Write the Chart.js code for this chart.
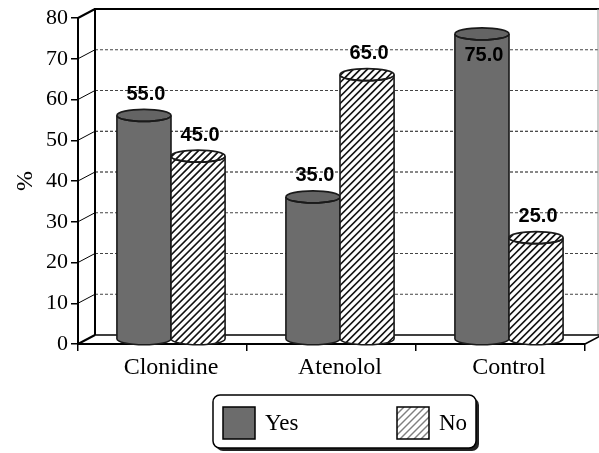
<!DOCTYPE html>
<html>
<head>
<meta charset="utf-8">
<script src="https://cdn.jsdelivr.net/npm/chart.js@4.4.1/dist/chart.umd.min.js"></script>
<style>
  html, body { margin: 0; padding: 0; background: #fff; }
</style>
</head>
<body>
<canvas id="chart" width="599" height="453"></canvas>
<script>
const categories = ["Clonidine", "Atenolol", "Control"];
const seriesNames = ["Yes", "No"];
const yesValues = [55, 35, 75];
const noValues = [45, 65, 25];
const yMax = 80;
const yStep = 10;

const DX = 17, DY = 9;          // depth of the 3d box
const serif = "'Liberation Serif', 'Times New Roman', serif";
const sans = "'Liberation Sans', Arial, sans-serif";
const YES_FILL = "#6c6c6c";
const YES_TOP = "#646464";
const EDGE = "#1a1a1a";

// diagonal hatch inside the current clip
function hatch(ctx, x0, y0, x1, y1, color, gap, width) {
  ctx.save();
  ctx.strokeStyle = color;
  ctx.lineWidth = width;
  const h = y1 - y0;
  for (let k = x0 - h; k < x1 + gap; k += gap) {
    ctx.beginPath();
    ctx.moveTo(k, y1);
    ctx.lineTo(k + h, y0);
    ctx.stroke();
  }
  ctx.restore();
}

function cylinder(ctx, cx, top, bottom, rx, ry, striped) {
  const body = new Path2D();
  body.moveTo(cx - rx, top);
  body.lineTo(cx - rx, bottom);
  body.ellipse(cx, bottom, rx, ry, 0, Math.PI, 0, true);
  body.lineTo(cx + rx, top);
  body.ellipse(cx, top, rx, ry, 0, 0, Math.PI, false);
  body.closePath();
  const cap = new Path2D();
  cap.ellipse(cx, top, rx, ry, 0, 0, Math.PI * 2);

  ctx.save();
  ctx.fillStyle = striped ? "#fff" : YES_FILL;
  ctx.fill(body);
  if (striped) {
    ctx.save(); ctx.clip(body);
    hatch(ctx, cx - rx, top - ry, cx + rx, bottom + ry, "#111", 7, 1.7);
    ctx.restore();
  }
  ctx.fillStyle = striped ? "#fff" : YES_TOP;
  ctx.fill(cap);
  if (striped) {
    ctx.save(); ctx.clip(cap);
    hatch(ctx, cx - rx, top - ry, cx + rx, top + ry, "#111", 7, 1.7);
    ctx.restore();
  }
  ctx.strokeStyle = EDGE;
  ctx.lineWidth = 1.6;
  ctx.stroke(body);
  ctx.stroke(cap);
  ctx.restore();
}

const frame = {
  id: "frame",
  beforeDatasetsDraw(chart) {
    const { ctx, chartArea: a, scales: { y } } = chart;
    ctx.save();
    for (let v = 0; v <= yMax; v += yStep) {
      const yf = y.getPixelForValue(v);
      ctx.setLineDash([]);
      ctx.strokeStyle = "#000";
      ctx.lineWidth = (v === 0 || v === yMax) ? 2 : 1;
      ctx.beginPath(); ctx.moveTo(a.left, yf); ctx.lineTo(a.left + DX, yf - DY); ctx.stroke();
      if (v > 0 && v < yMax) {
        ctx.setLineDash([3, 2]);
        ctx.strokeStyle = (v === 40 || v === 50) ? "#111" : "#444";
        ctx.lineWidth = 1;
        ctx.beginPath(); ctx.moveTo(a.left + DX, yf - DY); ctx.lineTo(a.right + DX, yf - DY); ctx.stroke();
      }
    }
    ctx.setLineDash([]);
    ctx.strokeStyle = "#000";
    const yt = y.getPixelForValue(yMax) - DY, yb = y.getPixelForValue(0) - DY;
    // back wall
    ctx.lineWidth = 2;
    ctx.beginPath();
    ctx.moveTo(a.left + DX, yb); ctx.lineTo(a.left + DX, yt); ctx.lineTo(a.right + DX, yt);
    ctx.stroke();
    ctx.lineWidth = 1;
    ctx.strokeStyle = "#999";
    ctx.beginPath(); ctx.moveTo(a.right + DX - 4, yt); ctx.lineTo(a.right + DX - 4, yb); ctx.stroke();
    // floor
    ctx.strokeStyle = "#000";
    ctx.lineWidth = 1.5;
    ctx.beginPath();
    ctx.moveTo(a.left + DX, yb); ctx.lineTo(a.right + DX, yb);
    ctx.moveTo(a.right, a.bottom); ctx.lineTo(a.right + DX, yb);
    ctx.stroke();
    ctx.restore();
  }
};

const cylinders = {
  id: "cylinders",
  afterDatasetsDraw(chart) {
    const { ctx, chartArea: a } = chart;
    ctx.save();
    chart.data.datasets.forEach((ds, i) => {
      chart.getDatasetMeta(i).data.forEach((el, j) => {
        const cx = el.x + DX / 2;
        const top = el.y - DY / 2;
        const bottom = el.base - DY / 2;
        cylinder(ctx, cx, top, bottom, el.width / 2, 6, i === 1);
      });
    });
    // value labels
    ctx.font = "bold 20px " + sans;
    ctx.fillStyle = "#000";
    ctx.textAlign = "center";
    ctx.textBaseline = "middle";
    chart.data.datasets.forEach((ds, i) => {
      chart.getDatasetMeta(i).data.forEach((el, j) => {
        const cx = el.x + DX / 2 + 2;
        const top = el.y - DY / 2;
        const inside = top - 21 - 10 < a.top;
        ctx.fillText(ds.data[j].toFixed(1), cx, inside ? top + 22 : top - 21);
      });
    });
    ctx.restore();
  }
};

const boxLegend = {
  id: "boxLegend",
  afterDraw(chart) {
    const ctx = chart.ctx;
    const bx = 213, by = 395, bw = 263, bh = 53;
    ctx.save();
    ctx.fillStyle = "#222";
    ctx.beginPath(); ctx.roundRect(bx + 3, by + 3, bw, bh, 7); ctx.fill();
    ctx.fillStyle = "#fff";
    ctx.strokeStyle = "#000";
    ctx.lineWidth = 1.5;
    ctx.beginPath(); ctx.roundRect(bx, by, bw, bh, 7); ctx.fill(); ctx.stroke();
    const slots = [223, 397];
    ctx.font = "23px " + serif;
    ctx.textBaseline = "middle";
    chart.data.datasets.forEach((ds, i) => {
      const sx = slots[i], sy = 407, s = 32;
      ctx.fillStyle = i === 0 ? YES_FILL : "#fff";
      ctx.fillRect(sx, sy, s, s);
      if (i === 1) {
        ctx.save();
        ctx.beginPath(); ctx.rect(sx, sy, s, s); ctx.clip();
        hatch(ctx, sx, sy, sx + s, sy + s, "#808080", 7, 1.4);
        ctx.restore();
      }
      ctx.strokeStyle = "#000";
      ctx.lineWidth = 1.5;
      ctx.strokeRect(sx, sy, s, s);
      ctx.fillStyle = "#000";
      ctx.fillText(ds.label, sx + s + 10, sy + s / 2 + 1);
    });
    ctx.restore();
  }
};

new Chart(document.getElementById("chart"), {
  type: "bar",
  data: {
    labels: categories,
    datasets: [
      { label: seriesNames[0], data: yesValues, backgroundColor: "rgba(0,0,0,0)", borderWidth: 0 },
      { label: seriesNames[1], data: noValues, backgroundColor: "rgba(0,0,0,0)", borderWidth: 0 }
    ]
  },
  options: {
    responsive: false,
    animation: false,
    events: [],
    categoryPercentage: 0.64,
    barPercentage: 1,
    layout: { padding: { top: 18, right: 14, left: 0, bottom: 0 } },
    plugins: { legend: { display: false }, tooltip: { enabled: false } },
    scales: {
      x: {
        afterFit(scale) { scale.height = 109; },
        grid: { drawOnChartArea: false, tickLength: 7, color: "#000", lineWidth: 1.5, offset: true },
        border: { color: "#000", width: 2 },
        ticks: { font: { family: serif, size: 24 }, color: "#000", padding: 2, labelOffset: DX / 2 }
      },
      y: {
        min: 0, max: yMax,
        afterFit(scale) { scale.width = 78; },
        grid: { drawOnChartArea: false, tickLength: 7, color: "#000", lineWidth: 1.5 },
        border: { color: "#000", width: 2 },
        ticks: { stepSize: yStep, font: { family: serif, size: 22 }, color: "#000", padding: 3 },
        title: { display: true, text: "%", font: { family: serif, size: 24 }, color: "#000", padding: { top: 11, bottom: 0 } }
      }
    }
  },
  plugins: [frame, cylinders, boxLegend]
});
</script>
</body>
</html>
